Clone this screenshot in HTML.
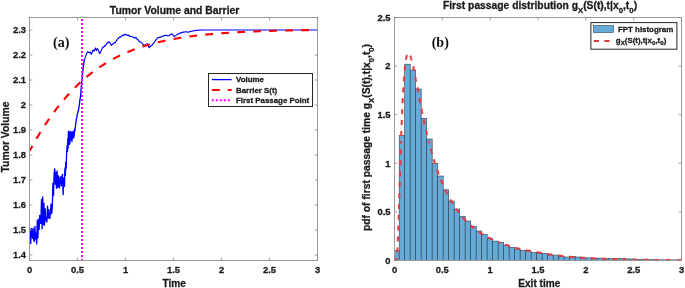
<!DOCTYPE html>
<html><head><meta charset="utf-8"><style>
html,body{margin:0;padding:0;background:#fff;width:685px;height:288px;overflow:hidden}
svg{display:block;will-change:transform}
text{fill:#1a1a1a;stroke:#1a1a1a;stroke-width:0.28px}
text.s{stroke:none;fill:#111}
</style></head><body>
<svg width="685" height="288" viewBox="0 0 685 288"><clipPath id="cl"><rect x="29.5" y="17.5" width="288.0" height="243.0"/></clipPath>
<clipPath id="cr"><rect x="394.5" y="17.5" width="287.0" height="243.0"/></clipPath>
<g clip-path="url(#cl)">
<polyline points="29.50,228.60 30.10,232.50 30.70,243.55 31.30,228.40 31.90,229.62 32.50,238.26 33.10,228.37 33.70,239.72 34.30,241.44 34.90,226.49 35.50,239.05 36.10,232.80 36.70,243.88 37.30,220.10 37.90,237.98 38.50,219.37 39.10,229.51 39.70,215.32 40.30,223.35 40.90,222.87 41.50,199.51 42.10,228.84 42.70,196.89 43.30,224.51 43.90,203.16 44.50,225.24 45.10,208.76 45.70,219.47 46.30,220.71 46.90,222.01 47.50,206.17 48.10,218.10 48.70,209.75 49.30,217.74 49.90,218.47 50.50,210.22 51.10,204.15 51.70,213.66 52.30,207.41 52.90,183.50 53.50,195.24 54.10,173.71 54.70,168.80 55.30,184.11 55.90,172.49 56.50,188.24 57.10,170.97 57.70,187.49 58.30,175.66 58.90,185.67 59.50,187.94 60.10,176.92 60.70,177.26 61.30,185.73 61.90,176.28 62.50,174.44 63.10,194.68 63.70,178.66 64.30,177.99 64.50,186.30 64.80,170.34 65.10,167.79 65.40,175.52 65.70,162.28 66.00,168.88 66.30,166.29 66.60,152.98 66.90,148.80 67.20,145.24 67.50,151.57 67.80,138.45 68.10,148.12 68.40,131.45 68.70,143.73 69.00,131.26 69.30,144.46 69.60,132.36 69.90,143.85 70.20,133.58 70.50,138.91 70.80,131.34 71.10,134.54 71.40,140.15 71.70,132.31 72.00,141.60 72.30,132.37 72.60,138.36 72.90,133.07 73.20,131.10 73.50,136.33 73.80,137.68 74.10,135.79 74.40,133.31 74.70,128.94 75.00,130.49 75.30,126.87 75.60,125.23 75.90,122.03 76.20,120.98 76.50,118.55 76.80,117.75 77.10,115.14 77.40,113.62 77.70,113.39 78.00,111.74 78.30,110.77 78.60,109.28 78.90,107.69 79.20,105.29 79.50,103.75 79.80,100.48 80.10,99.12 80.40,97.46 80.70,94.78 81.00,90.37 81.30,87.10 81.60,83.90 81.90,80.36 82.20,77.53 82.50,74.75 82.80,70.69 83.10,68.41 83.40,66.58 83.70,63.53 84.00,61.88 84.30,60.12 84.60,58.76" fill="none" stroke="#0000ff" stroke-width="1.35" stroke-linejoin="round"/>
<polyline points="84.60,58.76 84.90,58.08 85.20,57.44 85.50,56.72 85.80,55.49 86.10,55.00 86.40,54.36 86.70,53.82 86.70,53.50 87.05,52.61 87.40,51.91 87.75,51.57 88.10,51.87 88.45,52.48 88.80,52.56 89.15,52.56 89.50,52.47 89.85,52.78 90.20,51.93 90.55,52.75 90.90,53.53 91.25,54.38 91.60,53.75 91.95,52.74 92.30,52.05 92.65,51.00 93.00,50.00 93.35,49.99 93.70,50.85 94.05,51.24 94.40,50.39 94.75,49.70 95.10,48.66 95.45,47.93 95.80,48.89 96.15,50.19 96.50,50.50 96.85,49.58 97.20,48.84 97.55,48.71 97.90,49.33 98.25,50.12 98.60,50.88 98.95,51.69 99.30,52.70 99.65,53.55 100.00,53.41 100.35,52.28 100.70,51.74 101.05,50.79 101.40,50.41 101.75,49.30 102.10,48.67 102.45,48.06 102.80,47.05 103.15,47.09 103.50,47.23 103.85,46.72 104.20,46.68 104.55,46.48 104.90,45.46 105.25,45.57 105.60,45.21 105.95,44.82 106.30,44.06 106.65,43.64 107.00,43.22 107.35,43.14 107.70,42.67 108.05,42.09 108.40,42.48 108.75,42.24 109.10,42.17 109.45,41.79 109.80,42.52 110.15,43.35 110.50,44.08 110.85,44.70 111.20,45.15 111.55,45.30 111.90,44.80 112.25,44.38 112.60,44.06 112.95,44.14 113.30,43.79 113.65,43.27 114.00,42.86 114.35,42.57 114.70,42.95 115.05,42.83 115.40,42.48 115.75,41.79 116.10,40.97 116.45,40.56 116.80,40.38 117.15,39.71 117.50,39.16 117.85,38.79 118.20,38.58 118.55,37.87 118.90,37.70 119.25,37.32 119.60,37.45 119.95,36.96 120.30,36.92 120.65,37.08 121.00,36.56 121.35,36.06 121.70,35.88 122.05,35.62 122.40,35.08 122.75,35.14 123.10,35.64 123.45,35.29 123.80,35.07 124.15,34.68 124.50,34.80 124.85,34.41 125.20,34.19 125.55,34.73 125.90,34.47 126.25,34.86 126.60,35.22 126.95,35.08 127.30,35.08 127.65,35.50 128.00,35.37 128.35,35.28 128.70,35.11 129.05,35.48 129.40,36.20 129.75,36.58 130.10,36.33 130.45,36.18 130.80,36.21 131.15,36.49 131.50,36.55 131.85,36.74 132.20,36.91 132.55,36.88 132.90,36.97 133.25,37.12 133.60,37.17 133.95,37.40 134.30,37.95 134.65,37.96 135.00,37.85 135.35,37.38 135.70,37.92 136.05,37.73 136.40,37.89 136.75,38.74 137.10,39.34 137.45,39.59 137.80,39.45 138.15,39.85 138.50,40.11 138.85,40.75 139.20,41.68 139.55,41.81 139.90,41.74 140.25,41.71 140.60,42.10 140.95,42.42 141.30,42.47 141.65,42.94 142.00,43.02 142.35,43.75 142.70,44.26 143.05,44.68 143.40,44.65 143.75,44.98 144.10,45.12 144.45,45.25 144.80,45.44 145.15,45.16 145.50,44.60 145.85,44.66 146.20,44.30 146.55,44.04 146.90,43.92 147.25,43.80 147.60,44.40 147.95,45.25 148.30,46.07 148.65,46.66 149.00,47.60 149.35,47.80 149.70,47.12 150.05,46.64 150.40,46.59 150.75,46.34 151.10,45.55 151.45,45.63 151.80,45.37 152.15,45.19 152.50,44.50 152.85,43.93 153.20,43.23 153.55,43.38 153.90,42.73 154.25,42.52 154.60,41.76 154.95,41.30 155.30,40.49 155.65,40.08 156.00,39.93 156.35,39.23 156.70,39.08 157.05,38.67 157.40,38.00 157.75,37.78 158.10,37.69 158.45,37.68 158.80,37.55 159.15,37.40 159.50,37.37 159.85,37.20 160.20,37.02 160.55,37.02 160.90,37.09 161.25,36.65 161.60,36.57 161.95,36.35 162.30,36.09 162.65,36.16 163.00,35.90 163.35,36.09 163.70,35.81 164.05,35.79 164.40,35.65 164.75,35.44 165.10,35.49 165.45,35.38 165.80,35.38 166.15,35.43 166.50,35.34 166.85,35.47 167.20,35.60 167.55,35.84 167.90,35.76 168.25,35.87 168.60,35.74 168.95,35.72 169.30,35.39 169.65,35.01 170.00,34.92 170.35,34.93 170.70,34.52 171.05,34.24 171.40,34.04 171.75,33.78 172.10,33.91 172.45,34.31 172.80,34.74 173.15,35.32 173.50,35.70 173.85,36.24 174.20,36.58 174.55,36.24 174.90,35.86 175.25,35.92 175.60,35.62 175.95,35.40 176.30,35.13 176.65,34.88 177.00,34.61 177.35,34.63 177.70,34.30 178.05,33.99 178.40,33.80 178.75,33.59 179.10,33.59 179.45,33.53 179.80,33.28 180.15,33.03 180.50,32.91 180.85,32.91 181.20,32.56 181.55,32.60 181.90,32.47 182.25,32.51 182.60,32.35 182.95,32.28 183.30,32.13 183.65,32.04 184.00,32.11 184.35,32.07 184.70,31.95 185.05,31.81 185.40,31.68 185.75,31.76 186.10,31.86 186.45,31.93 186.80,31.99 187.15,32.00 187.50,32.08 187.85,32.15 188.20,32.19 188.55,32.16 188.90,32.02 189.25,31.87 189.60,31.78 189.95,31.67 190.30,31.56 190.65,31.48 191.00,31.37 191.35,31.31 191.70,31.22 192.05,31.14 192.40,31.06 192.75,30.99 193.10,30.92 193.45,30.87 193.80,30.81 194.15,30.77 194.50,30.71 194.85,30.64 195.20,30.59 195.55,30.52 195.90,30.47 196.25,30.41 196.60,30.34 196.95,30.29 197.30,30.23 197.65,30.16 205.00,30.00 317.50,30.00" fill="none" stroke="#0000ff" stroke-width="1.15" stroke-linejoin="round"/>
<polyline points="29.50,151.04 30.22,149.72 30.94,148.41 31.67,147.12 32.39,145.83 33.11,144.56 33.83,143.29 34.55,142.04 35.27,140.79 36.00,139.56 36.72,138.34 37.44,137.13 38.16,135.93 38.88,134.73 39.61,133.55 40.33,132.38 41.05,131.22 41.77,130.07 42.49,128.93 43.21,127.80 43.94,126.68 44.66,125.57 45.38,124.47 46.10,123.39 46.82,122.31 47.55,121.24 48.27,120.18 48.99,119.13 49.71,118.09 50.43,117.06 51.15,116.04 51.88,115.03 52.60,114.03 53.32,113.04 54.04,112.06 54.76,111.09 55.48,110.13 56.21,109.18 56.93,108.23 57.65,107.30 58.37,106.38 59.09,105.46 59.82,104.56 60.54,103.66 61.26,102.77 61.98,101.89 62.70,101.02 63.42,100.16 64.15,99.31 64.87,98.47 65.59,97.64 66.31,96.81 67.03,96.00 67.76,95.19 68.48,94.39 69.20,93.60 69.92,92.82 70.64,92.04 71.36,91.28 72.09,90.52 72.81,89.77 73.53,89.03 74.25,88.30 74.97,87.57 75.70,86.85 76.42,86.14 77.14,85.44 77.86,84.75 78.58,84.06 79.30,83.38 80.03,82.71 80.75,82.05 81.47,81.39 82.19,80.74 82.91,80.10 83.64,79.47 84.36,78.84 85.08,78.22 85.80,77.61 86.52,77.00 87.24,76.40 87.97,75.81 88.69,75.23 89.41,74.65 90.13,74.08 90.85,73.51 91.58,72.95 92.30,72.40 93.02,71.85 93.74,71.32 94.46,70.78 95.18,70.26 95.91,69.73 96.63,69.22 97.35,68.71 98.07,68.21 98.79,67.71 99.52,67.22 100.24,66.74 100.96,66.26 101.68,65.78 102.40,65.32 103.12,64.86 103.85,64.40 104.57,63.95 105.29,63.50 106.01,63.06 106.73,62.63 107.45,62.20 108.18,61.77 108.90,61.35 109.62,60.94 110.34,60.53 111.06,60.13 111.79,59.73 112.51,59.33 113.23,58.94 113.95,58.56 114.67,58.18 115.39,57.80 116.12,57.43 116.84,57.07 117.56,56.71 118.28,56.35 119.00,56.00 119.73,55.65 120.45,55.30 121.17,54.96 121.89,54.63 122.61,54.30 123.33,53.97 124.06,53.65 124.78,53.33 125.50,53.01 126.22,52.70 126.94,52.40 127.67,52.09 128.39,51.79 129.11,51.50 129.83,51.21 130.55,50.92 131.27,50.63 132.00,50.35 132.72,50.08 133.44,49.80 134.16,49.53 134.88,49.26 135.61,49.00 136.33,48.74 137.05,48.48 137.77,48.23 138.49,47.98 139.21,47.73 139.94,47.49 140.66,47.25 141.38,47.01 142.10,46.78 142.82,46.55 143.55,46.32 144.27,46.09 144.99,45.87 145.71,45.65 146.43,45.43 147.15,45.22 147.88,45.01 148.60,44.80 149.32,44.59 150.04,44.39 150.76,44.19 151.48,43.99 152.21,43.79 152.93,43.60 153.65,43.41 154.37,43.22 155.09,43.04 155.82,42.85 156.54,42.67 157.26,42.49 157.98,42.32 158.70,42.14 159.42,41.97 160.15,41.80 160.87,41.64 161.59,41.47 162.31,41.31 163.03,41.15 163.76,40.99 164.48,40.83 165.20,40.68 165.92,40.53 166.64,40.38 167.36,40.23 168.09,40.08 168.81,39.94 169.53,39.79 170.25,39.65 170.97,39.51 171.70,39.38 172.42,39.24 173.14,39.11 173.86,38.98 174.58,38.85 175.30,38.72 176.03,38.59 176.75,38.47 177.47,38.34 178.19,38.22 178.91,38.10 179.64,37.99 180.36,37.87 181.08,37.75 181.80,37.64 182.52,37.53 183.24,37.42 183.97,37.31 184.69,37.20 185.41,37.09 186.13,36.99 186.85,36.89 187.58,36.78 188.30,36.68 189.02,36.58 189.74,36.48 190.46,36.39 191.18,36.29 191.91,36.20 192.63,36.11 193.35,36.01 194.07,35.92 194.79,35.83 195.52,35.75 196.24,35.66 196.96,35.57 197.68,35.49 198.40,35.41 199.12,35.32 199.85,35.24 200.57,35.16 201.29,35.08 202.01,35.00 202.73,34.93 203.45,34.85 204.18,34.78 204.90,34.70 205.62,34.63 206.34,34.56 207.06,34.49 207.79,34.42 208.51,34.35 209.23,34.28 209.95,34.21 210.67,34.15 211.39,34.08 212.12,34.02 212.84,33.95 213.56,33.89 214.28,33.83 215.00,33.77 215.73,33.71 216.45,33.65 217.17,33.59 217.89,33.53 218.61,33.47 219.33,33.42 220.06,33.36 220.78,33.31 221.50,33.25 222.22,33.20 222.94,33.15 223.67,33.09 224.39,33.04 225.11,32.99 225.83,32.94 226.55,32.89 227.27,32.85 228.00,32.80 228.72,32.75 229.44,32.70 230.16,32.66 230.88,32.61 231.61,32.57 232.33,32.52 233.05,32.48 233.77,32.44 234.49,32.39 235.21,32.35 235.94,32.31 236.66,32.27 237.38,32.23 238.10,32.19 238.82,32.15 239.55,32.11 240.27,32.08 240.99,32.04 241.71,32.00 242.43,31.96 243.15,31.93 243.88,31.89 244.60,31.86 245.32,31.82 246.04,31.79 246.76,31.76 247.48,31.72 248.21,31.69 248.93,31.66 249.65,31.63 250.37,31.60 251.09,31.56 251.82,31.53 252.54,31.50 253.26,31.47 253.98,31.44 254.70,31.42 255.42,31.39 256.15,31.36 256.87,31.33 257.59,31.30 258.31,31.28 259.03,31.25 259.76,31.22 260.48,31.20 261.20,31.17 261.92,31.15 262.64,31.12 263.36,31.10 264.09,31.07 264.81,31.05 265.53,31.03 266.25,31.00 266.97,30.98 267.70,30.96 268.42,30.94 269.14,30.91 269.86,30.89 270.58,30.87 271.30,30.85 272.03,30.83 272.75,30.81 273.47,30.79 274.19,30.77 274.91,30.75 275.64,30.73 276.36,30.71 277.08,30.69 277.80,30.67 278.52,30.65 279.24,30.64 279.97,30.62 280.69,30.60 281.41,30.58 282.13,30.57 282.85,30.55 283.58,30.53 284.30,30.52 285.02,30.50 285.74,30.48 286.46,30.47 287.18,30.45 287.91,30.44 288.63,30.42 289.35,30.41 290.07,30.39 290.79,30.38 291.52,30.36 292.24,30.35 292.96,30.33 293.68,30.32 294.40,30.31 295.12,30.29 295.85,30.28 296.57,30.27 297.29,30.25 298.01,30.24 298.73,30.23 299.45,30.22 300.18,30.20 300.90,30.19 301.62,30.18 302.34,30.17 303.06,30.16 303.79,30.15 304.51,30.13 305.23,30.12 305.95,30.11 306.67,30.10 307.39,30.09 308.12,30.08 308.84,30.07 309.56,30.06 310.28,30.05 311.00,30.04 311.73,30.03 312.45,30.02 313.17,30.01 313.89,30.00 314.61,29.99 315.33,29.98 316.06,29.97 316.78,29.97 317.50,29.96" fill="none" stroke="#ff0000" stroke-width="2.1" stroke-dasharray="7.8 8.2" stroke-dashoffset="1.90"/>
<line x1="82" y1="14.9" x2="82" y2="260.5" stroke="#ff00ff" stroke-width="2" stroke-dasharray="2 2"/>
</g>
<rect x="29.5" y="17.5" width="288.0" height="243.0" fill="none" stroke="#999999" stroke-width="1"/>
<path d="M29.50,260.5v-2.9M29.50,17.5v2.9M77.50,260.5v-2.9M77.50,17.5v2.9M125.50,260.5v-2.9M125.50,17.5v2.9M173.50,260.5v-2.9M173.50,17.5v2.9M221.50,260.5v-2.9M221.50,17.5v2.9M269.50,260.5v-2.9M269.50,17.5v2.9M317.50,260.5v-2.9M317.50,17.5v2.9M29.5,255.00h2.9M317.5,255.00h-2.9M29.5,230.00h2.9M317.5,230.00h-2.9M29.5,205.00h2.9M317.5,205.00h-2.9M29.5,180.00h2.9M317.5,180.00h-2.9M29.5,155.00h2.9M317.5,155.00h-2.9M29.5,130.00h2.9M317.5,130.00h-2.9M29.5,105.00h2.9M317.5,105.00h-2.9M29.5,80.00h2.9M317.5,80.00h-2.9M29.5,55.00h2.9M317.5,55.00h-2.9M29.5,30.00h2.9M317.5,30.00h-2.9" stroke="#8a8a8a" stroke-width="0.8" fill="none"/>
<g clip-path="url(#cr)">
<g fill="#66aad8" stroke="#2f4050" stroke-width="0.6"><rect x="394.50" y="250.40" width="4.70" height="10.10"/><rect x="399.20" y="135.40" width="5.50" height="125.10"/><rect x="404.70" y="64.20" width="5.50" height="196.30"/><rect x="410.20" y="70.00" width="5.50" height="190.50"/><rect x="415.70" y="89.00" width="5.50" height="171.50"/><rect x="421.20" y="118.30" width="5.50" height="142.20"/><rect x="426.70" y="139.00" width="5.50" height="121.50"/><rect x="432.20" y="163.30" width="5.50" height="97.20"/><rect x="437.70" y="176.00" width="5.50" height="84.50"/><rect x="443.20" y="189.80" width="5.50" height="70.70"/><rect x="448.70" y="201.00" width="5.50" height="59.50"/><rect x="454.20" y="209.00" width="5.50" height="51.50"/><rect x="459.70" y="216.40" width="5.50" height="44.10"/><rect x="465.20" y="221.00" width="5.50" height="39.50"/><rect x="470.70" y="226.25" width="5.50" height="34.25"/><rect x="476.20" y="231.00" width="5.50" height="29.50"/><rect x="481.70" y="234.40" width="5.50" height="26.10"/><rect x="487.20" y="238.30" width="5.50" height="22.20"/><rect x="492.70" y="241.10" width="5.50" height="19.40"/><rect x="498.20" y="242.40" width="5.50" height="18.10"/><rect x="503.70" y="245.20" width="5.50" height="15.30"/><rect x="509.20" y="247.30" width="5.50" height="13.20"/><rect x="514.70" y="249.20" width="5.50" height="11.30"/><rect x="520.20" y="250.40" width="5.50" height="10.10"/><rect x="525.70" y="251.70" width="5.50" height="8.80"/><rect x="531.20" y="252.50" width="5.50" height="8.00"/><rect x="536.70" y="253.50" width="5.50" height="7.00"/><rect x="542.20" y="253.30" width="5.50" height="7.20"/><rect x="547.70" y="255.10" width="5.50" height="5.40"/><rect x="553.20" y="255.10" width="5.50" height="5.40"/><rect x="558.70" y="256.30" width="5.50" height="4.20"/><rect x="564.20" y="257.00" width="5.50" height="3.50"/><rect x="569.70" y="256.40" width="5.50" height="4.10"/><rect x="575.20" y="257.00" width="5.50" height="3.50"/><rect x="580.70" y="257.80" width="5.50" height="2.70"/><rect x="586.20" y="257.90" width="5.50" height="2.60"/><rect x="591.70" y="258.20" width="5.50" height="2.30"/><rect x="597.20" y="258.10" width="5.50" height="2.40"/><rect x="602.70" y="258.40" width="5.50" height="2.10"/><rect x="608.20" y="258.40" width="5.50" height="2.10"/><rect x="613.70" y="258.70" width="5.50" height="1.80"/><rect x="619.20" y="258.60" width="5.50" height="1.90"/><rect x="624.70" y="258.90" width="5.50" height="1.60"/><rect x="630.20" y="259.10" width="5.50" height="1.40"/><rect x="635.70" y="259.30" width="5.50" height="1.20"/><rect x="641.20" y="259.60" width="5.50" height="0.90"/><rect x="646.70" y="259.70" width="5.50" height="0.80"/><rect x="652.20" y="259.80" width="5.50" height="0.70"/><rect x="657.70" y="259.90" width="5.50" height="0.60"/><rect x="663.20" y="259.90" width="5.50" height="0.60"/><rect x="668.70" y="259.90" width="5.50" height="0.60"/><rect x="674.20" y="260.00" width="5.50" height="0.50"/><rect x="679.70" y="260.00" width="5.50" height="0.50"/><rect x="685.20" y="260.00" width="5.50" height="0.50"/><rect x="690.70" y="260.00" width="5.50" height="0.50"/><rect x="696.20" y="260.00" width="5.50" height="0.50"/><rect x="701.70" y="260.10" width="5.50" height="0.40"/></g>
<polyline points="394.98,260.50 395.00,260.50 395.03,260.50 395.05,260.50 395.07,260.50 395.10,260.50 395.12,260.50 395.14,260.50 395.17,260.50 395.19,260.50 395.21,260.50 395.24,260.50 395.26,260.50 395.29,260.50 395.31,260.50 395.33,260.50 395.36,260.50 395.38,260.50 395.40,260.50 395.43,260.49 395.45,260.49 395.47,260.49 395.50,260.49 395.52,260.49 395.55,260.48 395.57,260.48 395.59,260.48 395.62,260.47 395.64,260.47 395.66,260.46 395.69,260.45 395.71,260.45 395.73,260.44 395.76,260.43 395.78,260.42 395.80,260.40 395.83,260.39 395.85,260.38 395.88,260.36 395.90,260.34 395.92,260.32 395.95,260.30 395.97,260.27 395.99,260.24 396.02,260.21 396.04,260.18 396.06,260.15 396.09,260.11 396.11,260.07 396.14,260.02 396.16,259.98 396.18,259.93 396.21,259.87 396.23,259.81 396.25,259.75 396.28,259.68 396.30,259.61 396.32,259.54 396.35,259.46 396.37,259.37 396.40,259.28 396.42,259.19 396.44,259.08 396.47,258.98 396.49,258.87 396.51,258.75 396.54,258.63 396.56,258.50 396.58,258.36 396.61,258.22 396.63,258.08 396.66,257.92 396.68,257.76 396.70,257.59 396.73,257.42 396.75,257.24 396.77,257.05 396.80,256.86 396.82,256.65 396.84,256.44 396.87,256.23 396.89,256.00 396.91,255.77 396.94,255.53 396.96,255.28 396.99,255.03 397.01,254.77 397.03,254.49 397.06,254.22 397.08,253.93 397.10,253.64 397.13,253.33 397.15,253.02 397.17,252.70 397.20,252.38 397.22,252.04 397.25,251.70 397.27,251.35 397.29,250.99 397.32,250.62 397.34,250.25 397.36,249.87 397.39,249.48 397.41,249.08 397.43,248.67 397.46,248.26 397.48,247.83 397.51,247.40 397.53,246.96 397.55,246.52 397.58,246.06 397.60,245.60 397.62,245.13 397.65,244.66 397.67,244.17 397.69,243.68 397.72,243.18 397.74,242.67 397.77,242.16 397.79,241.64 397.81,241.11 397.84,240.57 397.86,240.03 397.88,239.48 397.91,238.93 397.93,238.36 397.95,237.80 397.98,237.22 398.00,236.64 398.03,236.05 398.05,235.45 398.07,234.85 398.10,234.25 398.12,233.63 398.14,233.01 398.17,232.39 398.19,231.76 398.21,231.12 398.24,230.48 398.26,229.83 398.28,229.18 398.31,228.52 398.33,227.86 398.36,227.19 398.38,226.52 398.40,225.84 398.43,225.16 398.45,224.47 398.47,223.78 398.50,223.09 398.52,222.39 398.54,221.68 398.57,220.98 398.59,220.26 398.62,219.55 398.64,218.83 398.66,218.11 398.69,217.38 398.71,216.65 398.73,215.92 398.76,215.18 398.78,214.44 398.80,213.70 398.83,212.95 398.85,212.20 398.88,211.45 398.90,210.70 398.92,209.94 398.95,209.18 398.97,208.42 398.99,207.66 399.02,206.89 399.04,206.12 399.06,205.35 399.09,204.58 399.11,203.81 399.14,203.03 399.16,202.26 399.18,201.48 399.21,200.70 399.23,199.92 399.25,199.14 399.28,198.35 399.30,197.57 399.32,196.78 399.35,196.00 399.37,195.21 399.39,194.42 399.42,193.64 399.44,192.85 399.47,192.06 399.49,191.27 399.51,190.48 399.54,189.69 399.56,188.90 399.58,188.10 399.61,187.31 399.63,186.52 399.65,185.73 399.68,184.94 399.70,184.15 399.73,183.36 399.75,182.57 399.77,181.78 399.80,180.99 399.82,180.21 399.84,179.42 399.87,178.63 399.89,177.84 399.91,177.06 399.94,176.27 399.96,175.49 399.99,174.71 400.01,173.93 400.03,173.15 400.06,172.37 400.08,171.59 400.10,170.81 400.13,170.04 400.15,169.26 400.17,168.49 400.20,167.72 400.22,166.95 400.25,166.18 400.27,165.41 400.29,164.65 400.32,163.88 400.34,163.12 400.36,162.36 400.39,161.60 400.41,160.85 400.43,160.09 400.46,159.34 400.48,158.59 400.50,157.84 400.53,157.10 400.55,156.35 400.58,155.61 400.60,154.87 400.62,154.13 400.65,153.40 400.67,152.66 400.69,151.93 400.72,151.20 400.74,150.48 400.76,149.75 400.79,149.03 400.81,148.31 400.84,147.59 400.86,146.88 400.88,146.17 400.91,145.46 400.93,144.75 400.95,144.05 400.98,143.35 401.00,142.65 401.02,141.95 401.05,141.26" fill="none" stroke="#e8383b" stroke-width="2" stroke-dasharray="5.0 5.9" stroke-dashoffset="1.84"/>
<polyline points="401.05,141.26 401.07,140.57 401.10,139.88 401.12,139.19 401.14,138.51 401.17,137.83 401.19,137.15 401.21,136.48 401.24,135.81 401.26,135.14 401.28,134.47 401.31,133.81 401.33,133.15 401.36,132.49 401.38,131.84 401.40,131.19 401.43,130.54 401.45,129.89 401.47,129.25 401.50,128.61 401.52,127.97 401.54,127.34 401.57,126.71 401.59,126.08 401.61,125.46 401.64,124.84 401.66,124.22 401.69,123.60 401.71,122.99 401.73,122.38 401.76,121.78 401.78,121.17 401.80,120.57 401.83,119.97 401.85,119.38 401.87,118.79 401.90,118.20 401.92,117.62 401.95,117.04 401.97,116.46 401.99,115.88 402.02,115.31 402.04,114.74 402.06,114.18 402.09,113.61 402.11,113.05 402.13,112.50 402.16,111.94 402.18,111.39 402.21,110.85 402.23,110.30 402.25,109.76 402.28,109.22 402.30,108.69 402.32,108.16 402.35,107.63 402.37,107.10 402.39,106.58 402.42,106.06 402.44,105.55 402.47,105.03 402.49,104.52 402.51,104.02 402.54,103.51 402.56,103.01 402.58,102.52 402.61,102.02 402.63,101.53 402.65,101.04 402.68,100.56 402.70,100.08 402.72,99.60 402.75,99.12 402.77,98.65 402.80,98.18 402.82,97.71 402.84,97.25 402.87,96.79 402.89,96.33 402.91,95.88 402.94,95.42 402.96,94.98 402.98,94.53 403.01,94.09 403.03,93.65 403.06,93.21 403.08,92.78 403.10,92.35 403.13,91.92 403.15,91.50 403.17,91.08 403.20,90.66 403.22,90.24 403.24,89.83 403.27,89.42 403.29,89.01 403.32,88.61 403.34,88.21 403.36,87.81 403.39,87.41 403.41,87.02 403.43,86.63 403.46,86.24 403.48,85.86 403.50,85.48 403.53,85.10 403.55,84.73 403.58,84.35 403.60,83.98 403.62,83.62 403.65,83.25 403.67,82.89 403.69,82.53 403.72,82.18 403.74,81.82 403.76,81.47 403.79,81.13 403.81,80.78 403.83,80.44 403.86,80.10 403.88,79.76 403.91,79.43 403.93,79.10 403.95,78.77 403.98,78.44 404.00,78.12 404.02,77.80 404.05,77.48 404.07,77.16 404.09,76.85 404.12,76.54 404.14,76.23 404.17,75.93 404.19,75.62 404.21,75.32 404.24,75.02 404.26,74.73 404.28,74.44 404.31,74.15 404.33,73.86 404.35,73.57 404.38,73.29 404.40,73.01 404.43,72.73 404.45,72.46 404.47,72.18 404.50,71.91 404.52,71.65 404.54,71.38 404.57,71.12 404.59,70.86 404.61,70.60 404.64,70.34 404.66,70.09 404.69,69.84 404.71,69.59 404.73,69.34 404.76,69.10 404.78,68.85 404.80,68.61 404.83,68.38 404.85,68.14 404.87,67.91 404.90,67.68 404.92,67.45 404.95,67.22 404.97,67.00 404.99,66.78 405.02,66.56 405.04,66.34 405.06,66.12 405.09,65.91 405.11,65.70 405.13,65.49 405.16,65.28 405.18,65.08 405.20,64.88 405.23,64.68 405.25,64.48 405.28,64.28 405.30,64.09 405.32,63.90 405.35,63.70 405.37,63.52 405.39,63.33 405.42,63.15 405.44,62.97 405.46,62.79 405.49,62.61 405.51,62.43 405.54,62.26 405.56,62.09 405.58,61.91 405.61,61.75 405.63,61.58 405.65,61.42 405.68,61.25 405.70,61.09 405.72,60.93 405.75,60.78 405.77,60.62 405.80,60.47 405.82,60.32 405.84,60.17 405.87,60.02 405.89,59.88 405.91,59.73 405.94,59.59 405.96,59.45 405.98,59.31 406.01,59.18 406.03,59.04 406.06,58.91 406.08,58.78 406.10,58.65 406.13,58.52 406.15,58.39 406.17,58.27 406.20,58.15 406.22,58.02 406.24,57.90 406.27,57.79 406.29,57.67 406.31,57.56 406.34,57.44 406.36,57.33 406.39,57.22 406.41,57.12 406.43,57.01 406.46,56.90 406.48,56.80 406.50,56.70 406.53,56.60 406.55,56.50 406.57,56.41 406.60,56.31 406.62,56.22 406.65,56.12 406.67,56.03 406.69,55.94 406.72,55.86 406.74,55.77 406.76,55.69 406.79,55.60 406.81,55.52 406.83,55.44 406.86,55.36 406.88,55.29 406.91,55.21 406.93,55.14 406.95,55.06 406.98,54.99 407.00,54.92 407.02,54.85 407.05,54.78 407.07,54.72 407.09,54.65 407.12,54.59 407.14,54.53 407.17,54.47 407.19,54.41 407.21,54.35 407.24,54.30 407.26,54.24 407.28,54.19 407.31,54.13 407.33,54.08 407.35,54.03 407.38,53.98 407.40,53.94 407.42,53.89 407.45,53.85 407.47,53.80 407.50,53.76 407.52,53.72 407.54,53.68 407.57,53.64 407.59,53.60 407.61,53.57 407.64,53.53 407.66,53.50 407.68,53.46 407.71,53.43 407.73,53.40 407.76,53.37 407.78,53.35 407.80,53.32 407.83,53.29 407.85,53.27 407.87,53.24 407.90,53.22 407.92,53.20 407.94,53.18 407.97,53.16 407.99,53.14 408.02,53.13 408.04,53.11 408.06,53.10 408.09,53.08 408.11,53.07 408.13,53.06 408.16,53.05 408.18,53.04 408.20,53.03 408.23,53.02 408.25,53.02 408.28,53.01 408.30,53.01 408.32,53.01 408.35,53.00 408.37,53.00 408.39,53.00 408.42,53.00 408.44,53.00 408.46,53.01 408.49,53.01 408.51,53.01 408.53,53.02 408.56,53.03 408.58,53.03 408.61,53.04 408.63,53.05 408.65,53.06 408.68,53.07 408.70,53.09 408.72,53.10 408.75,53.11 408.77,53.13 408.79,53.14 408.82,53.16 408.84,53.18 408.87,53.19 408.89,53.21 408.91,53.23 408.94,53.25 408.96,53.28 408.98,53.30 409.01,53.32 409.03,53.35 409.05,53.37 409.08,53.40 409.10,53.42 409.13,53.45 409.15,53.48 409.17,53.51 409.20,53.54 409.22,53.57 409.24,53.60 409.27,53.63 409.29,53.67 409.31,53.70 409.34,53.73 409.36,53.77 409.39,53.81 409.41,53.84 409.43,53.88 409.46,53.92 409.48,53.96 409.50,54.00 409.53,54.04 409.55,54.08 409.57,54.12 409.60,54.16 409.62,54.21 409.64,54.25 409.67,54.29 409.69,54.34 409.72,54.39 409.74,54.43 409.76,54.48 409.79,54.53 409.81,54.58 409.83,54.63 409.86,54.68 409.88,54.73 409.90,54.78 409.93,54.83 409.95,54.88 409.98,54.94 410.00,54.99 410.02,55.05 410.05,55.10 410.07,55.16 410.09,55.21 410.12,55.27 410.14,55.33 410.16,55.39 410.19,55.45 410.21,55.50 410.24,55.56 410.26,55.63 410.28,55.69 410.31,55.75 410.33,55.81 410.35,55.87 410.38,55.94 410.40,56.00 410.42,56.07 410.45,56.13 410.47,56.20 410.50,56.26 410.52,56.33 410.54,56.40 410.57,56.47 410.59,56.53 410.61,56.60 410.64,56.67 410.66,56.74 410.68,56.81 410.71,56.88 410.73,56.96 410.75,57.03 410.78,57.10 410.80,57.17 410.83,57.25 410.85,57.32 410.87,57.39 410.90,57.47 410.92,57.55 410.94,57.62 410.97,57.70 410.99,57.77 411.01,57.85 411.04,57.93 411.06,58.01 411.09,58.09 411.11,58.17 411.13,58.25 411.16,58.33 411.18,58.41 411.20,58.49 411.23,58.57 411.25,58.65 411.27,58.73 411.30,58.82 411.32,58.90 411.35,58.98 411.37,59.07 411.39,59.15 411.42,59.24 411.44,59.32 411.46,59.41 411.49,59.49 411.51,59.58 411.53,59.67 411.56,59.75 411.58,59.84 411.61,59.93 411.63,60.02 411.65,60.11 411.68,60.19 411.70,60.28 411.72,60.37 411.75,60.46 411.77,60.55 411.79,60.65 411.82,60.74 411.84,60.83 411.86,60.92 411.89,61.01 411.91,61.11 411.94,61.20 411.96,61.29 411.98,61.39 412.01,61.48 412.03,61.58 412.05,61.67 412.08,61.77 412.10,61.86 412.12,61.96 412.15,62.05 412.17,62.15 412.20,62.25 412.22,62.34 412.24,62.44 412.27,62.54 412.29,62.64 412.31,62.73 412.34,62.83 412.36,62.93 412.38,63.03 412.41,63.13 412.43,63.23 412.46,63.33 412.48,63.43 412.50,63.53 412.53,63.63 412.55,63.73 412.57,63.83 412.60,63.94 412.62,64.04 412.64,64.14 412.67,64.24 412.69,64.35 412.72,64.45 412.74,64.55 412.76,64.66 412.79,64.76 412.81,64.86 412.83,64.97 412.86,65.07 412.88,65.18 412.90,65.28 412.93,65.39 412.95,65.50 412.98,65.60 413.00,65.71 413.02,65.81 413.05,65.92 413.07,66.03 413.09,66.13 413.12,66.24 413.14,66.35 413.16,66.46 413.19,66.56 413.21,66.67 413.23,66.78 413.26,66.89 413.28,67.00 413.31,67.11 413.33,67.22 413.35,67.33 413.38,67.44 413.40,67.55 413.42,67.66 413.45,67.77 413.47,67.88 413.49,67.99 413.52,68.10 413.54,68.21 413.57,68.32 413.59,68.43 413.61,68.54 413.64,68.66 413.66,68.77 413.68,68.88 413.71,68.99 413.73,69.10 413.75,69.22 413.78,69.33 413.80,69.44 413.83,69.56 413.85,69.67 413.87,69.78 413.90,69.90 413.92,70.01 413.94,70.13 413.97,70.24 413.99,70.35 414.01,70.47 414.04,70.58 414.06,70.70 414.09,70.81 414.11,70.93 414.13,71.04 414.16,71.16 414.18,71.28 414.20,71.39 414.23,71.51 414.25,71.62 414.27,71.74 414.30,71.86 414.32,71.97 414.34,72.09 414.37,72.21 414.39,72.32 414.42,72.44 414.44,72.56 414.46,72.67 414.49,72.79 414.51,72.91 414.53,73.03 414.56,73.14 414.58,73.26 414.60,73.38 414.63,73.50 414.65,73.62 414.68,73.73 414.70,73.85 414.72,73.97 414.75,74.09 414.77,74.21 414.79,74.33 414.82,74.45 414.84,74.57 414.86,74.69 414.89,74.81 414.91,74.92 414.94,75.04 414.96,75.16 414.98,75.28 415.01,75.40 415.03,75.52 415.05,75.64 415.08,75.76 415.10,75.88 415.12,76.00 415.15,76.12 415.17,76.25 415.20,76.37 415.22,76.49 415.24,76.61 415.27,76.73 415.29,76.85 415.31,76.97 415.34,77.09 415.36,77.21 415.38,77.33 415.41,77.46 415.43,77.58 415.45,77.70 415.48,77.82 415.50,77.94 415.53,78.06 415.55,78.19 415.57,78.31 415.60,78.43 415.62,78.55 415.64,78.67 415.67,78.80 415.69,78.92 415.71,79.04 415.74,79.16 415.76,79.28 415.79,79.41 415.81,79.53 415.83,79.65 415.86,79.77 415.88,79.90 415.90,80.02 415.93,80.14 415.95,80.27 415.97,80.39 416.00,80.51 416.02,80.63 416.05,80.76 416.07,80.88 416.09,81.00 416.12,81.13 416.14,81.25 416.16,81.37 416.19,81.50 416.21,81.62 416.23,81.74 416.26,81.87 416.28,81.99 416.31,82.11 416.33,82.24 416.35,82.36 416.38,82.48 416.40,82.61 416.42,82.73 416.45,82.86 416.47,82.98 416.49,83.10 416.52,83.23 416.54,83.35 416.56,83.47 416.59,83.60 416.61,83.72 416.64,83.85 416.66,83.97 416.68,84.09 416.71,84.22 416.73,84.34 416.75,84.47 416.78,84.59 416.80,84.71 416.82,84.84 416.85,84.96 416.87,85.09 416.90,85.21 416.92,85.34 416.94,85.46 416.97,85.58 416.99,85.71 417.01,85.83 417.04,85.96 417.06,86.08 417.08,86.21 417.11,86.33 417.13,86.45 417.16,86.58 417.18,86.70 417.20,86.83 417.23,86.95 417.25,87.08 417.27,87.20 417.30,87.32 417.32,87.45 417.34,87.57 417.37,87.70 417.39,87.82 417.42,87.95 417.44,88.07 417.46,88.20 417.49,88.32 417.51,88.44 417.53,88.57 417.56,88.69 417.58,88.82 417.60,88.94 417.63,89.07 417.65,89.19 417.67,89.32 417.70,89.44 417.72,89.56 417.75,89.69 417.77,89.81 417.79,89.94 417.82,90.06 417.84,90.19 417.86,90.31 417.89,90.43 417.91,90.56 417.93,90.68 417.96,90.81 417.98,90.93 418.01,91.06 418.03,91.18 418.05,91.30 418.08,91.43 418.10,91.55 418.12,91.68 418.15,91.80 418.17,91.92 418.19,92.05 418.22,92.17 418.24,92.30 418.27,92.42 418.29,92.55 418.31,92.67 418.34,92.79 418.36,92.92 418.38,93.04 418.41,93.16 418.43,93.29 418.45,93.41 418.48,93.54 418.50,93.66 418.53,93.78 418.55,93.91 418.57,94.03 418.60,94.16 418.62,94.28 418.64,94.40 418.67,94.53 418.69,94.65 418.71,94.77 418.74,94.90 418.76,95.02 418.78,95.14 418.81,95.27 418.83,95.39 418.86,95.51 418.88,95.64 418.90,95.76 418.93,95.88 418.95,96.01 418.97,96.13 419.00,96.25 419.02,96.38 419.04,96.50 419.07,96.62 419.09,96.75 419.12,96.87 419.14,96.99 419.16,97.12 419.19,97.24 419.21,97.36 419.23,97.48 419.26,97.61 419.28,97.73 419.30,97.85 419.33,97.97 419.35,98.10 419.38,98.22 419.40,98.34 419.42,98.47 419.45,98.59 419.47,98.71 419.49,98.83 419.52,98.95 419.54,99.08 419.56,99.20 419.59,99.32 419.61,99.44 419.64,99.57 419.66,99.69 419.68,99.81 419.71,99.93 419.73,100.05 419.75,100.18 419.78,100.30 419.80,100.42 419.82,100.54 419.85,100.66 419.87,100.78 419.90,100.91 419.92,101.03 419.94,101.15 419.97,101.27 419.99,101.39 420.01,101.51 420.04,101.63 420.06,101.76 420.08,101.88 420.11,102.00 420.13,102.12 420.15,102.24 420.18,102.36 420.20,102.48 420.23,102.60 420.25,102.72 420.27,102.84 420.30,102.96 420.32,103.09 420.34,103.21 420.37,103.33 420.39,103.45 420.41,103.57 420.44,103.69 420.46,103.81 420.49,103.93 420.51,104.05 420.53,104.17 420.56,104.29 420.58,104.41 420.60,104.53 420.63,104.65 420.65,104.77 420.67,104.89 420.70,105.01 420.72,105.13 420.75,105.25 420.77,105.37 420.79,105.49 420.82,105.61 420.84,105.73 420.86,105.84 420.89,105.96 420.91,106.08 420.93,106.20 420.96,106.32 420.98,106.44 421.01,106.56 421.03,106.68 421.05,106.80 421.08,106.92 421.10,107.03 421.12,107.15 421.15,107.27 421.17,107.39 421.19,107.51 421.22,107.63 421.24,107.75 421.26,107.86 421.29,107.98 421.31,108.10 421.34,108.22 421.36,108.34 421.38,108.45 421.41,108.57 421.43,108.69 421.45,108.81 421.48,108.93 421.50,109.04 421.52,109.16 421.55,109.28 421.57,109.40 421.60,109.51 421.62,109.63 421.64,109.75 421.67,109.86 421.69,109.98 421.71,110.10 421.74,110.22 421.76,110.33 421.78,110.45 421.81,110.57 421.83,110.68 421.86,110.80 421.88,110.92 421.90,111.03 421.93,111.15 421.95,111.26 421.97,111.38 422.00,111.50 422.02,111.61 422.04,111.73 422.07,111.84 422.09,111.96 422.12,112.08 422.14,112.19 422.16,112.31 422.19,112.42 422.21,112.54 422.23,112.65 422.26,112.77 422.28,112.89 422.30,113.00 422.33,113.12 422.35,113.23 422.37,113.35 422.40,113.46 422.42,113.58 422.45,113.69 422.47,113.81 422.49,113.92 422.52,114.03 422.54,114.15 422.56,114.26 422.59,114.38 422.61,114.49 422.63,114.61 422.66,114.72 422.68,114.83 422.71,114.95 422.73,115.06 422.75,115.18 422.78,115.29 422.80,115.40 422.82,115.52 422.85,115.63 422.87,115.74 422.89,115.86 422.92,115.97 422.94,116.08 422.97,116.20 422.99,116.31 423.01,116.42 423.04,116.54 423.06,116.65 423.08,116.76 423.11,116.87 423.13,116.99 423.15,117.10 423.18,117.21 423.20,117.32 423.23,117.44 423.25,117.55 423.27,117.66 423.30,117.77 423.32,117.89 423.34,118.00 423.37,118.11 423.39,118.22 423.41,118.33 423.44,118.44 423.46,118.56 423.48,118.67 423.51,118.78 423.53,118.89 423.56,119.00 423.58,119.11 423.60,119.22 423.63,119.33 423.65,119.45 423.67,119.56 423.70,119.67 423.72,119.78 423.74,119.89 423.77,120.00 423.79,120.11 423.82,120.22 423.84,120.33 423.86,120.44 423.89,120.55 423.91,120.66 423.93,120.77 423.96,120.88 423.98,120.99 424.00,121.10 424.03,121.21 424.05,121.32 424.08,121.43 424.10,121.54 424.12,121.65 424.15,121.76 424.17,121.87 424.19,121.98 424.22,122.08 424.24,122.19 424.26,122.30 424.29,122.41 424.31,122.52 424.34,122.63 424.36,122.74 424.38,122.85 424.41,122.95 424.43,123.06 424.45,123.17 424.48,123.28 424.50,123.39 424.52,123.49 424.55,123.60 424.57,123.71 424.59,123.82 424.62,123.93 424.64,124.03 424.67,124.14 424.69,124.25 424.71,124.36 424.74,124.46 424.76,124.57 424.78,124.68 424.81,124.78 424.83,124.89 424.85,125.00 424.88,125.10 424.90,125.21 424.93,125.32 424.95,125.42 424.97,125.53 425.00,125.64 425.02,125.74 425.04,125.85 425.07,125.96 425.09,126.06 425.11,126.17 425.14,126.27 425.16,126.38 425.19,126.48 425.21,126.59 425.23,126.70 425.26,126.80 425.28,126.91 425.30,127.01 425.33,127.12 425.35,127.22 425.37,127.33 425.40,127.43 425.42,127.54 425.45,127.64 425.47,127.75 425.49,127.85 425.52,127.96 425.54,128.06 425.56,128.16 425.59,128.27 425.61,128.37 425.63,128.48 425.66,128.58 425.68,128.69 425.70,128.79 425.73,128.89 425.75,129.00 425.78,129.10 425.80,129.20 425.82,129.31 425.85,129.41 425.87,129.51 425.89,129.62 425.92,129.72 425.94,129.82 425.96,129.93 425.99,130.03 426.01,130.13 426.04,130.24 426.06,130.34 426.08,130.44 426.11,130.54 426.13,130.65 426.15,130.75 426.18,130.85 426.20,130.95 426.22,131.05 426.25,131.16 426.27,131.26 426.30,131.36 426.32,131.46 426.34,131.56 426.37,131.67 426.39,131.77 426.41,131.87 426.44,131.97 426.46,132.07 426.48,132.17 426.51,132.27 426.53,132.37 426.56,132.48 426.58,132.58 426.60,132.68 426.63,132.78 426.65,132.88 426.67,132.98 426.70,133.08 426.72,133.18 426.74,133.28 426.77,133.38 426.79,133.48 426.82,133.58 426.84,133.68 426.86,133.78 426.89,133.88 426.91,133.98 426.93,134.08 426.96,134.18 426.98,134.28 427.00,134.38 427.03,134.48 427.05,134.58 427.07,134.67 427.10,134.77 427.12,134.87 427.15,134.97 427.17,135.07 427.19,135.17 427.22,135.27 427.24,135.37 427.26,135.46 427.29,135.56 427.31,135.66 427.33,135.76 427.36,135.86 427.38,135.96 427.41,136.05 427.43,136.15 427.45,136.25 427.48,136.35 427.50,136.44 427.52,136.54 427.55,136.64 427.57,136.74 427.59,136.83 427.62,136.93 427.64,137.03 427.67,137.13 427.69,137.22 427.71,137.32 427.74,137.42 427.76,137.51 427.78,137.61 427.81,137.71 427.83,137.80 427.85,137.90 427.88,138.00 427.90,138.09 427.93,138.19 427.95,138.28 427.97,138.38 428.00,138.48 428.02,138.57 428.04,138.67 428.07,138.76 428.09,138.86 428.11,138.95 428.14,139.05 428.16,139.15 428.18,139.24 428.21,139.34 428.23,139.43 428.26,139.53 428.28,139.62 428.30,139.72 428.33,139.81 428.35,139.91 428.37,140.00 428.40,140.09 428.42,140.19 428.44,140.28 428.47,140.38 428.49,140.47 428.52,140.57 428.54,140.66 428.56,140.75 428.59,140.85 428.61,140.94 428.63,141.04 428.66,141.13 428.68,141.22 428.70,141.32 428.73,141.41" fill="none" stroke="#e8383b" stroke-width="2" stroke-dasharray="5.0 5.9" stroke-dashoffset="5.59"/>
<polyline points="428.61,140.94 428.63,141.04 428.66,141.13 428.68,141.22 428.70,141.32 428.73,141.41 428.75,141.50 428.78,141.60 428.80,141.69 428.82,141.78 428.85,141.88 428.87,141.97 428.89,142.06 428.92,142.15 428.94,142.25 428.96,142.34 428.99,142.43 429.01,142.52 429.04,142.62 429.06,142.71 429.08,142.80 429.11,142.89 429.13,142.98 429.15,143.08 429.18,143.17 429.20,143.26 429.22,143.35 429.25,143.44 429.27,143.54 429.29,143.63 429.32,143.72 429.34,143.81 429.37,143.90 429.39,143.99 429.41,144.08 429.44,144.17 429.46,144.27 429.48,144.36 429.51,144.45 429.53,144.54 429.55,144.63 429.58,144.72 429.60,144.81 429.63,144.90 429.65,144.99 429.67,145.08 429.70,145.17 429.72,145.26 429.74,145.35 429.77,145.44 429.79,145.53 429.81,145.62 429.84,145.71 429.86,145.80 429.89,145.89 429.91,145.98 429.93,146.07 429.96,146.16 429.98,146.25 430.00,146.33 430.03,146.42 430.05,146.51 430.07,146.60 430.10,146.69 430.12,146.78 430.15,146.87 430.17,146.96 430.19,147.04 430.22,147.13 430.24,147.22 430.26,147.31 430.29,147.40 430.31,147.49 430.33,147.57 430.36,147.66 430.38,147.75 430.40,147.84 430.43,147.93 430.45,148.01 430.48,148.10 430.50,148.19 430.52,148.28 430.55,148.36 430.57,148.45 430.59,148.54 430.62,148.62 430.64,148.71 430.66,148.80 430.69,148.88 430.71,148.97 430.74,149.06 430.76,149.14 430.78,149.23 430.81,149.32 430.83,149.40 430.85,149.49 430.88,149.58 430.90,149.66 430.92,149.75 430.95,149.84 430.97,149.92 431.00,150.01 431.02,150.09 431.04,150.18 431.07,150.26 431.09,150.35 431.11,150.43 431.14,150.52 431.16,150.61 431.18,150.69 431.21,150.78 431.23,150.86 431.26,150.95 431.28,151.03 431.30,151.12 431.33,151.20 431.35,151.29 431.37,151.37 431.40,151.45 431.42,151.54 431.44,151.62 431.47,151.71 431.49,151.79 431.51,151.88 431.54,151.96 431.56,152.04 431.59,152.13 431.61,152.21 431.63,152.30 431.66,152.38 431.68,152.46 431.70,152.55 431.73,152.63 431.75,152.71 431.77,152.80 431.80,152.88 431.82,152.96 431.85,153.05 431.87,153.13 431.89,153.21 431.92,153.30 431.94,153.38 431.96,153.46 431.99,153.54 432.01,153.63 432.03,153.71 432.06,153.79 432.08,153.87 432.11,153.96 432.13,154.04 432.15,154.12 432.18,154.20 432.20,154.29 432.22,154.37 432.25,154.45 432.27,154.53 432.29,154.61 432.32,154.69 432.34,154.78 432.37,154.86 432.39,154.94 432.41,155.02 432.44,155.10 432.46,155.18 432.48,155.26 432.51,155.34 432.53,155.43 432.55,155.51 432.58,155.59 432.60,155.67 432.62,155.75 432.65,155.83 432.67,155.91 432.70,155.99 432.72,156.07 432.74,156.15 432.77,156.23 433.12,157.43 433.48,158.62 433.83,159.79 434.19,160.94 434.55,162.07 434.90,163.20 435.26,164.30 435.61,165.39 435.97,166.47 436.33,167.53 436.68,168.58 437.04,169.61 437.39,170.63 437.75,171.64 438.10,172.63 438.46,173.60 438.82,174.57 439.17,175.52 439.53,176.46 439.88,177.39 440.24,178.30 440.60,179.20 440.95,180.09 441.31,180.97 441.66,181.83 442.02,182.69 442.37,183.53 442.73,184.36 443.09,185.18 443.44,185.99 443.80,186.79 444.15,187.58 444.51,188.35 444.87,189.12 445.22,189.88 445.58,190.62 445.93,191.36 446.29,192.09 446.64,192.81 447.00,193.52 447.36,194.21 447.71,194.91 448.07,195.59 448.42,196.26 448.78,196.92 449.14,197.58 449.49,198.23 449.85,198.86 450.20,199.50 450.56,200.12 450.91,200.73 451.27,201.34 451.63,201.94 451.98,202.53 452.34,203.11 452.69,203.69 453.05,204.26 453.41,204.82 453.76,205.38 454.12,205.93 454.47,206.47 454.83,207.00 455.18,207.53 455.54,208.06 455.90,208.57 456.25,209.08 456.61,209.58 456.96,210.08 457.32,210.57 457.68,211.06 458.03,211.53 458.39,212.01 458.74,212.48 459.10,212.94 459.45,213.39 459.81,213.85 460.17,214.29 460.52,214.73 460.88,215.17 461.23,215.60 461.59,216.02 461.95,216.44 462.30,216.86 462.66,217.27 463.01,217.67 463.37,218.07 463.72,218.47 464.08,218.86 464.44,219.25 464.79,219.63 465.15,220.01 465.50,220.38 465.86,220.75 466.22,221.12 466.57,221.48 466.93,221.84 467.28,222.19 467.64,222.54 467.99,222.88 468.35,223.22 468.71,223.56 469.06,223.89 469.42,224.22 469.77,224.55 470.13,224.87 470.49,225.19 470.84,225.51 471.20,225.82 471.55,226.13 471.91,226.43 472.27,226.74 472.62,227.03 472.98,227.33 473.33,227.62 473.69,227.91 474.04,228.20 474.40,228.48 474.76,228.76 475.11,229.04 475.47,229.31 475.82,229.58 476.18,229.85 476.54,230.11 476.89,230.38 477.25,230.64 477.60,230.89 477.96,231.15 478.31,231.40 478.67,231.65 479.03,231.89 479.38,232.14 479.74,232.38 480.09,232.62 480.45,232.85 480.81,233.09 481.16,233.32 481.52,233.55 481.87,233.77 482.23,234.00 482.58,234.22 482.94,234.44 483.30,234.66 483.65,234.87 484.01,235.08 484.36,235.30 484.72,235.50 485.08,235.71 485.43,235.92 485.79,236.12 486.14,236.32 486.50,236.52 486.85,236.71 487.21,236.91 487.57,237.10 487.92,237.29 488.28,237.48 488.63,237.67 488.99,237.85 489.35,238.04 489.70,238.22 490.06,238.40 490.41,238.58 490.77,238.75 491.12,238.93 491.48,239.10 491.84,239.27 492.19,239.44 492.55,239.61 492.90,239.77 493.26,239.94 493.62,240.10 493.97,240.26 494.33,240.42 494.68,240.58 495.04,240.74 495.39,240.90 495.75,241.05 496.11,241.20 496.46,241.35 496.82,241.50 497.17,241.65 497.53,241.80 497.89,241.94 498.24,242.09 498.60,242.23 498.95,242.37 499.31,242.51 499.66,242.65 500.02,242.79 500.38,242.93" fill="none" stroke="#e8383b" stroke-width="2" stroke-dasharray="5.0 5.9" stroke-dashoffset="2.79"/>
<polyline points="500.02,242.79 500.38,242.93 500.73,243.06 501.09,243.19 501.44,243.33 501.80,243.46 502.16,243.59 502.51,243.72 502.87,243.85 503.22,243.97 503.58,244.10 503.94,244.22 504.29,244.35 504.65,244.47 505.00,244.59 505.36,244.71 505.71,244.83 506.07,244.95 506.43,245.06 506.78,245.18 507.14,245.29 507.49,245.41 507.85,245.52 508.21,245.63 508.56,245.74 508.92,245.85 509.27,245.96 509.63,246.07 509.98,246.18 510.34,246.28 510.70,246.39 511.05,246.49 511.41,246.59 511.76,246.70 512.12,246.80 512.48,246.90 512.83,247.00 513.19,247.10 513.54,247.19 513.90,247.29 514.25,247.39 514.61,247.48 514.97,247.58 515.32,247.67 515.68,247.76 516.03,247.86 516.39,247.95 516.75,248.04 517.10,248.13 517.46,248.22 517.81,248.31 518.17,248.39 518.52,248.48 518.88,248.57 519.24,248.65 519.59,248.74 519.95,248.82 520.30,248.90 520.66,248.99 521.02,249.07 521.37,249.15 521.73,249.23 522.08,249.31 522.44,249.39 522.79,249.47 523.15,249.55 523.51,249.62 523.86,249.70 524.22,249.78 524.57,249.85 524.93,249.93 525.29,250.00 525.64,250.07 526.00,250.15 526.35,250.22 526.71,250.29 527.06,250.36 527.42,250.43 527.78,250.50 528.13,250.57 528.49,250.64 528.84,250.71 529.20,250.78 529.56,250.84 529.91,250.91 530.27,250.98 530.62,251.04 530.98,251.11 531.33,251.17 531.69,251.24 532.05,251.30 532.40,251.36 532.76,251.43 533.11,251.49 533.47,251.55 533.83,251.61 534.18,251.67 534.54,251.73 534.89,251.79 535.25,251.85 535.60,251.91 535.96,251.97 536.32,252.02 536.67,252.08 537.03,252.14 537.38,252.19 537.74,252.25 538.10,252.31 538.45,252.38 538.81,252.46 539.16,252.53 539.52,252.60 539.88,252.67 540.23,252.74 540.59,252.81 540.94,252.88 541.30,252.95 541.65,253.01 542.01,253.08 542.37,253.14 542.72,253.21 543.08,253.27 543.43,253.34 543.79,253.40 544.15,253.46 544.50,253.53 544.86,253.59 545.21,253.65 545.57,253.71 545.92,253.77 546.28,253.83 546.64,253.89 546.99,253.94 547.35,254.00 547.70,254.06 548.06,254.12 548.42,254.17 548.77,254.23 549.13,254.28 549.48,254.34 549.84,254.39 550.19,254.44 550.55,254.50 550.91,254.55 551.26,254.60 551.62,254.65 551.97,254.70 552.33,254.75 552.69,254.80 553.04,254.85 553.40,254.90 553.75,254.95 554.11,255.00 554.46,255.05 554.82,255.09 555.18,255.14 555.53,255.19 555.89,255.23 556.24,255.28 556.60,255.32 556.96,255.37 557.31,255.41 557.67,255.45 558.02,255.50 558.38,255.54 558.73,255.58 559.09,255.63 559.45,255.67 559.80,255.71 560.16,255.75 560.51,255.79 560.87,255.83 561.23,255.87 561.58,255.91 561.94,255.95 562.29,255.99 562.65,256.03 563.00,256.06 563.36,256.10 563.72,256.14 564.07,256.18 564.43,256.21 564.78,256.25 565.14,256.29 565.50,256.32 565.85,256.36 566.21,256.39 566.56,256.43 566.92,256.46 567.27,256.50 567.63,256.53 567.99,256.56 568.34,256.60 568.70,256.63 569.05,256.66 569.41,256.69 569.77,256.73 570.12,256.76 570.48,256.79 570.83,256.82 571.19,256.85 571.54,256.88 571.90,256.91 572.26,256.94 572.61,256.97 572.97,257.00 573.32,257.03 573.68,257.06 574.04,257.09 574.39,257.12 574.75,257.15 575.10,257.17 575.46,257.20 575.82,257.23 576.17,257.26 576.53,257.28 576.88,257.31 577.24,257.34 577.59,257.36 577.95,257.39 578.31,257.41 578.66,257.44 579.02,257.47 579.37,257.49 579.73,257.52 580.09,257.54 580.44,257.56 580.80,257.59 581.15,257.61 581.51,257.64 581.86,257.66 582.22,257.68 582.58,257.71 582.93,257.73 583.29,257.75 583.64,257.78 584.00,257.80 584.36,257.82 584.71,257.84 585.07,257.86 585.42,257.89 585.78,257.91 586.13,257.93 586.49,257.95 586.85,257.97 587.20,257.99 587.56,258.01 587.91,258.03 588.27,258.05 588.63,258.07 588.98,258.09 589.34,258.11 589.69,258.13 590.05,258.15 590.40,258.17 590.76,258.19 591.12,258.21 591.47,258.23 591.83,258.24 592.18,258.26 592.54,258.28 592.90,258.30 593.25,258.32 593.61,258.34 593.96,258.35 594.32,258.37 594.67,258.39 595.03,258.40 595.39,258.42 595.74,258.44 596.10,258.45 596.45,258.47 596.81,258.49 597.17,258.50 597.52,258.52 597.88,258.54 598.23,258.55 598.59,258.57 598.94,258.58 599.30,258.60 599.66,258.61 600.01,258.63 600.37,258.64 600.72,258.66 601.08,258.67 601.44,258.69 601.79,258.70 602.15,258.72 602.50,258.73 602.86,258.75 603.21,258.76 603.57,258.77 603.93,258.79 604.28,258.80 604.64,258.82 604.99,258.83 605.35,258.84 605.71,258.86 606.06,258.87 606.42,258.88 606.77,258.89 607.13,258.91 607.48,258.92 607.84,258.93 608.20,258.95 608.55,258.96 608.91,258.97 609.26,258.98 609.62,258.99 609.98,259.01 610.33,259.02 610.69,259.03 611.04,259.04 611.40,259.05 611.76,259.06 612.11,259.08 612.47,259.09 612.82,259.10 613.18,259.11 613.53,259.12 613.89,259.13 614.25,259.14 614.60,259.15 614.96,259.16 615.31,259.17 615.67,259.18 616.03,259.19 616.38,259.21 616.74,259.22 617.09,259.23 617.45,259.24 617.80,259.25 618.16,259.26 618.52,259.27 618.87,259.27 619.23,259.28 619.58,259.29 619.94,259.30 620.30,259.31 620.65,259.32 621.01,259.33 621.36,259.34 621.72,259.35 622.07,259.36 622.43,259.37 622.79,259.38" fill="none" stroke="#e8383b" stroke-width="2" stroke-dasharray="5.0 5.9" stroke-dashoffset="5.65"/>
<polyline points="622.43,259.37 622.79,259.38 623.14,259.39 623.50,259.39 623.85,259.40 624.21,259.41 624.57,259.42 624.92,259.43 625.28,259.44 625.63,259.44 625.99,259.45 626.34,259.46 626.70,259.47 627.06,259.48 627.41,259.49 627.77,259.49 628.12,259.50 628.48,259.51 628.84,259.52 629.19,259.52 629.55,259.53 629.90,259.54 630.26,259.55 630.61,259.55 630.97,259.56 631.33,259.57 631.68,259.58 632.04,259.58 632.39,259.59 632.75,259.60 633.11,259.60 633.46,259.61 633.82,259.62 634.17,259.63 634.53,259.63 634.88,259.64 635.24,259.65 635.60,259.65 635.95,259.66 636.31,259.66 636.66,259.67 637.02,259.68 637.38,259.68 637.73,259.69 638.09,259.70 638.44,259.70 638.80,259.71 639.15,259.71 639.51,259.72 639.87,259.73 640.22,259.73 640.58,259.74 640.93,259.74 641.29,259.75 641.65,259.76 642.00,259.76 642.36,259.77 642.71,259.77 643.07,259.78 643.42,259.78 643.78,259.79 644.14,259.80 644.49,259.80 644.85,259.81 645.20,259.81 645.56,259.82 645.92,259.82 646.27,259.83 646.63,259.83 646.98,259.84 647.34,259.84 647.70,259.85 648.05,259.85 648.41,259.86 648.76,259.86 649.12,259.87 649.47,259.87 649.83,259.88 650.19,259.88 650.54,259.89 650.90,259.89 651.25,259.90 651.61,259.90 651.97,259.90 652.32,259.91 652.68,259.91 653.03,259.92 653.39,259.92 653.74,259.93 654.10,259.93 654.46,259.94 654.81,259.94 655.17,259.94 655.52,259.95 655.88,259.95 656.24,259.96 656.59,259.96 656.95,259.96 657.30,259.97 657.66,259.97 658.01,259.98 658.37,259.98 658.73,259.98 659.08,259.99 659.44,259.99 659.79,260.00 660.15,260.00 660.51,260.00 660.86,260.01 661.22,260.01 661.57,260.01 661.93,260.02 662.28,260.02 662.64,260.03 663.00,260.03 663.35,260.03 663.71,260.04 664.06,260.04 664.42,260.04 664.78,260.05 665.13,260.05 665.49,260.05 665.84,260.06 666.20,260.06 666.55,260.06 666.91,260.07 667.27,260.07 667.62,260.07 667.98,260.08 668.33,260.08 668.69,260.08 669.05,260.09 669.40,260.09 669.76,260.09 670.11,260.10 670.47,260.10 670.82,260.10 671.18,260.10 671.54,260.11 671.89,260.11 672.25,260.11 672.60,260.12 672.96,260.12 673.32,260.12 673.67,260.12 674.03,260.13 674.38,260.13 674.74,260.13 675.09,260.14 675.45,260.14 675.81,260.14 676.16,260.14 676.52,260.15 676.87,260.15 677.23,260.15 677.59,260.15 677.94,260.16 678.30,260.16 678.65,260.16 679.01,260.16 679.36,260.17 679.72,260.17 680.08,260.17 680.43,260.17 680.79,260.18 681.14,260.18 681.50,260.18" fill="none" stroke="#e8383b" stroke-width="2" stroke-dasharray="5.0 5.9" stroke-dashoffset="0.77"/>
</g>
<rect x="394.5" y="17.5" width="287.0" height="243.0" fill="none" stroke="#999999" stroke-width="1"/>
<path d="M394.50,260.5v-2.9M394.50,17.5v2.9M442.33,260.5v-2.9M442.33,17.5v2.9M490.17,260.5v-2.9M490.17,17.5v2.9M538.00,260.5v-2.9M538.00,17.5v2.9M585.83,260.5v-2.9M585.83,17.5v2.9M633.67,260.5v-2.9M633.67,17.5v2.9M681.50,260.5v-2.9M681.50,17.5v2.9M394.5,260.50h2.9M681.5,260.50h-2.9M394.5,211.90h2.9M681.5,211.90h-2.9M394.5,163.30h2.9M681.5,163.30h-2.9M394.5,114.70h2.9M681.5,114.70h-2.9M394.5,66.10h2.9M681.5,66.10h-2.9M394.5,17.50h2.9M681.5,17.50h-2.9" stroke="#8a8a8a" stroke-width="0.8" fill="none"/>
<text x="29.50" y="273.20" font-family='"Liberation Sans", sans-serif' font-size="9.4" font-weight="bold" text-anchor="middle" >0</text>
<text x="394.50" y="273.20" font-family='"Liberation Sans", sans-serif' font-size="9.4" font-weight="bold" text-anchor="middle" >0</text>
<text x="77.50" y="273.20" font-family='"Liberation Sans", sans-serif' font-size="9.4" font-weight="bold" text-anchor="middle" >0.5</text>
<text x="442.33" y="273.20" font-family='"Liberation Sans", sans-serif' font-size="9.4" font-weight="bold" text-anchor="middle" >0.5</text>
<text x="125.50" y="273.20" font-family='"Liberation Sans", sans-serif' font-size="9.4" font-weight="bold" text-anchor="middle" >1</text>
<text x="490.17" y="273.20" font-family='"Liberation Sans", sans-serif' font-size="9.4" font-weight="bold" text-anchor="middle" >1</text>
<text x="173.50" y="273.20" font-family='"Liberation Sans", sans-serif' font-size="9.4" font-weight="bold" text-anchor="middle" >1.5</text>
<text x="538.00" y="273.20" font-family='"Liberation Sans", sans-serif' font-size="9.4" font-weight="bold" text-anchor="middle" >1.5</text>
<text x="221.50" y="273.20" font-family='"Liberation Sans", sans-serif' font-size="9.4" font-weight="bold" text-anchor="middle" >2</text>
<text x="585.83" y="273.20" font-family='"Liberation Sans", sans-serif' font-size="9.4" font-weight="bold" text-anchor="middle" >2</text>
<text x="269.50" y="273.20" font-family='"Liberation Sans", sans-serif' font-size="9.4" font-weight="bold" text-anchor="middle" >2.5</text>
<text x="633.67" y="273.20" font-family='"Liberation Sans", sans-serif' font-size="9.4" font-weight="bold" text-anchor="middle" >2.5</text>
<text x="317.50" y="273.20" font-family='"Liberation Sans", sans-serif' font-size="9.4" font-weight="bold" text-anchor="middle" >3</text>
<text x="681.50" y="273.20" font-family='"Liberation Sans", sans-serif' font-size="9.4" font-weight="bold" text-anchor="middle" >3</text>
<text x="26.00" y="258.30" font-family='"Liberation Sans", sans-serif' font-size="9.4" font-weight="bold" text-anchor="end" >1.4</text>
<text x="26.00" y="233.30" font-family='"Liberation Sans", sans-serif' font-size="9.4" font-weight="bold" text-anchor="end" >1.5</text>
<text x="26.00" y="208.30" font-family='"Liberation Sans", sans-serif' font-size="9.4" font-weight="bold" text-anchor="end" >1.6</text>
<text x="26.00" y="183.30" font-family='"Liberation Sans", sans-serif' font-size="9.4" font-weight="bold" text-anchor="end" >1.7</text>
<text x="26.00" y="158.30" font-family='"Liberation Sans", sans-serif' font-size="9.4" font-weight="bold" text-anchor="end" >1.8</text>
<text x="26.00" y="133.30" font-family='"Liberation Sans", sans-serif' font-size="9.4" font-weight="bold" text-anchor="end" >1.9</text>
<text x="26.00" y="108.30" font-family='"Liberation Sans", sans-serif' font-size="9.4" font-weight="bold" text-anchor="end" >2</text>
<text x="26.00" y="83.30" font-family='"Liberation Sans", sans-serif' font-size="9.4" font-weight="bold" text-anchor="end" >2.1</text>
<text x="26.00" y="58.30" font-family='"Liberation Sans", sans-serif' font-size="9.4" font-weight="bold" text-anchor="end" >2.2</text>
<text x="26.00" y="33.30" font-family='"Liberation Sans", sans-serif' font-size="9.4" font-weight="bold" text-anchor="end" >2.3</text>
<text x="390.50" y="263.80" font-family='"Liberation Sans", sans-serif' font-size="9.4" font-weight="bold" text-anchor="end" >0</text>
<text x="390.50" y="215.20" font-family='"Liberation Sans", sans-serif' font-size="9.4" font-weight="bold" text-anchor="end" >0.5</text>
<text x="390.50" y="166.60" font-family='"Liberation Sans", sans-serif' font-size="9.4" font-weight="bold" text-anchor="end" >1</text>
<text x="390.50" y="118.00" font-family='"Liberation Sans", sans-serif' font-size="9.4" font-weight="bold" text-anchor="end" >1.5</text>
<text x="390.50" y="69.40" font-family='"Liberation Sans", sans-serif' font-size="9.4" font-weight="bold" text-anchor="end" >2</text>
<text x="390.50" y="20.80" font-family='"Liberation Sans", sans-serif' font-size="9.4" font-weight="bold" text-anchor="end" >2.5</text>
<text x="174.60" y="13.60" font-family='"Liberation Sans", sans-serif' font-size="10.4" font-weight="bold" text-anchor="middle" >Tumor Volume and Barrier</text>
<text x="540.00" y="9.00" font-family='"Liberation Sans", sans-serif' font-size="10.3" font-weight="bold" text-anchor="middle" >First passage distribution g<tspan font-size="7.8" dy="4.2">X</tspan><tspan dy="-4.2">(S(t),t|x</tspan><tspan font-size="7.8" dy="4.2">0</tspan><tspan dy="-4.2">,t</tspan><tspan font-size="7.8" dy="4.2">0</tspan><tspan dy="-4.2">)</tspan></text>
<text x="174.20" y="287.00" font-family='"Liberation Sans", sans-serif' font-size="10.1" font-weight="bold" text-anchor="middle" >Time</text>
<text x="539.30" y="287.00" font-family='"Liberation Sans", sans-serif' font-size="10.1" font-weight="bold" text-anchor="middle" >Exit time</text>
<text transform="translate(8.7,137) rotate(-90)" font-family='"Liberation Sans", sans-serif' font-size="10.35" font-weight="bold" text-anchor="middle">Tumor Volume</text>
<text transform="translate(370.3,137.5) rotate(-90)" font-family='"Liberation Sans", sans-serif' font-size="10.3" font-weight="bold" text-anchor="middle">pdf of first passage time g<tspan font-size="7.7" dy="4">X</tspan><tspan dy="-4">(S(t),t|x</tspan><tspan font-size="7.7" dy="4">0</tspan><tspan dy="-4">,t</tspan><tspan font-size="7.7" dy="4">0</tspan><tspan dy="-4">)</tspan></text>
<text x="53.00" y="46.50" font-family='"Liberation Serif", serif' font-size="14" font-weight="bold" text-anchor="start" class="s">(a)</text>
<text x="431.70" y="46.50" font-family='"Liberation Serif", serif' font-size="14" font-weight="bold" text-anchor="start" class="s">(b)</text>
<rect x="208.5" y="73.5" width="104" height="33" fill="#fff" stroke="#262626" stroke-width="1"/>
<line x1="211.8" y1="79.6" x2="231.6" y2="79.6" stroke="#0000ff" stroke-width="1.3"/>
<line x1="211.8" y1="90" x2="231.6" y2="90" stroke="#ff0000" stroke-width="2.2" stroke-dasharray="8 8"/>
<line x1="211.8" y1="100.3" x2="231.6" y2="100.3" stroke="#ff00ff" stroke-width="2" stroke-dasharray="2 2"/>
<text x="236.00" y="82.40" font-family='"Liberation Sans", sans-serif' font-size="7.9" font-weight="bold" text-anchor="start" >Volume</text>
<text x="236.00" y="92.80" font-family='"Liberation Sans", sans-serif' font-size="7.9" font-weight="bold" text-anchor="start" >Barrier S(t)</text>
<text x="236.00" y="103.10" font-family='"Liberation Sans", sans-serif' font-size="7.9" font-weight="bold" text-anchor="start" >First Passage Point</text>
<rect x="590.9" y="22.6" width="86" height="26.6" fill="#fff" stroke="#262626" stroke-width="1"/>
<rect x="593.5" y="25.5" width="20" height="7" fill="#66aad8" stroke="#2f4050" stroke-width="0.6"/>
<line x1="593.7" y1="41.1" x2="609.7" y2="41.1" stroke="#e8383b" stroke-width="2" stroke-dasharray="5.3 5.3"/>
<text x="618.00" y="31.80" font-family='"Liberation Sans", sans-serif' font-size="7.9" font-weight="bold" text-anchor="start" >FPT histogram</text>
<text x="615.80" y="42.50" font-family='"Liberation Sans", sans-serif' font-size="7.9" font-weight="bold" text-anchor="start" >g<tspan font-size="6.2" dy="2.9">X</tspan><tspan dy="-2.9">(S(t),t|x</tspan><tspan font-size="6.2" dy="2.9">0</tspan><tspan dy="-2.9">,t</tspan><tspan font-size="6.2" dy="2.9">0</tspan><tspan dy="-2.9">)</tspan></text></svg>
</body></html>
